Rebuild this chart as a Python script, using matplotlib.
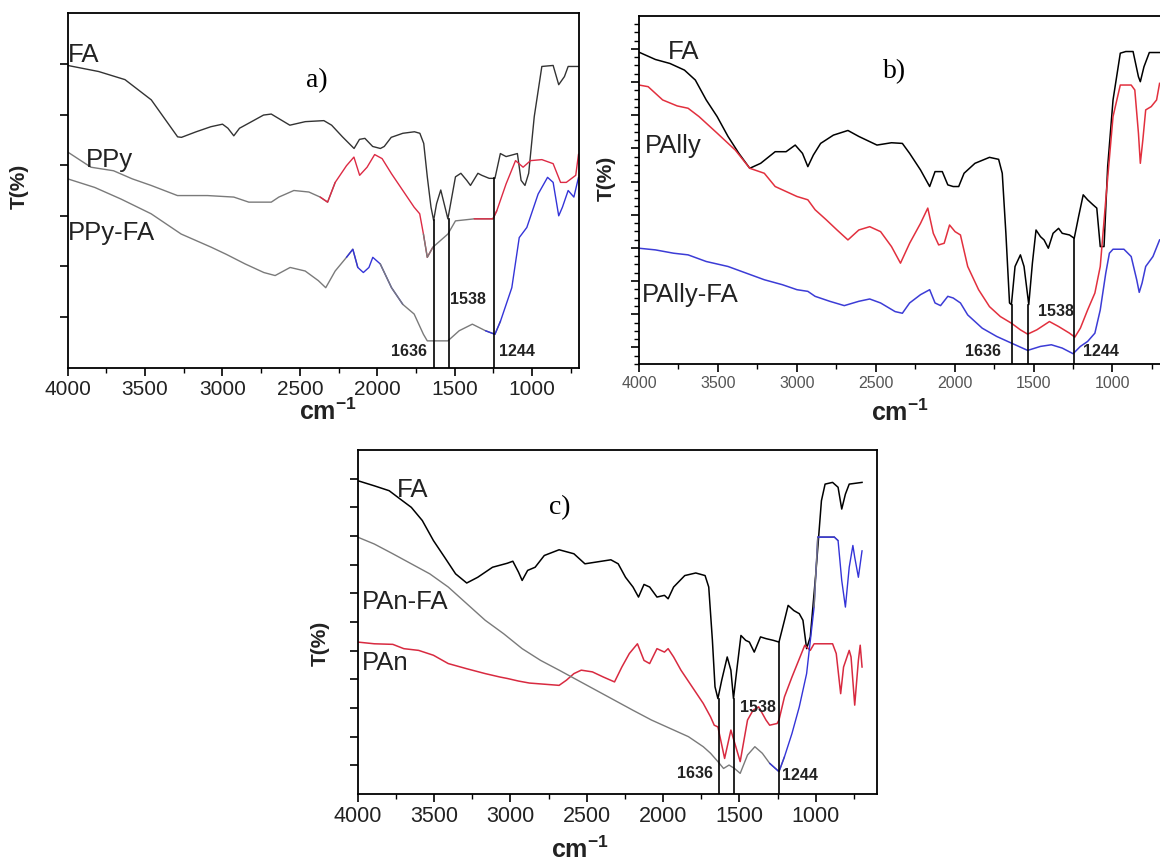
import matplotlib
matplotlib.use("Agg")
import matplotlib.pyplot as plt
import numpy as np
from matplotlib.ticker import FixedLocator, NullFormatter

plt.rcParams['font.family'] = ['Liberation Sans', 'DejaVu Sans']
plt.rcParams['mathtext.fontset'] = 'custom'
plt.rcParams['mathtext.rm'] = 'Liberation Sans'
plt.rcParams['mathtext.bf'] = 'Liberation Sans:bold'

# ---------------- data: panel a ----------------
a_fa_wn = [4000, 3800, 3630, 3460, 3290, 3265, 3170, 3075, 3000, 2965, 2927, 2890, 2830, 2735, 2685, 2565, 2465,
           2345, 2295, 2225, 2150, 2115, 2080, 2030, 1980, 1955, 1910, 1835, 1760, 1725, 1700, 1677, 1653, 1636,
           1617, 1590, 1544, 1495, 1460, 1422, 1398, 1350, 1325, 1277, 1240, 1205, 1168, 1131, 1095, 1071, 1046,
           1022, 986, 937, 864, 828, 791, 767, 700]
a_fa_t = [5.97, 5.85, 5.69, 5.29, 4.56, 4.55, 4.66, 4.76, 4.81, 4.73, 4.58, 4.73, 4.83, 4.99, 5.01, 4.79, 4.86,
          4.88, 4.79, 4.56, 4.33, 4.51, 4.53, 4.37, 4.33, 4.37, 4.55, 4.63, 4.66, 4.63, 4.43, 3.77, 3.17, 2.91,
          3.24, 3.51, 2.94, 3.77, 3.84, 3.70, 3.60, 3.84, 3.80, 3.74, 3.74, 4.23, 4.17, 4.20, 4.23, 3.70, 3.60,
          3.84, 4.96, 5.95, 5.97, 5.59, 5.75, 5.95, 5.95]

a_ppy_wn = [4000, 3850, 3704, 3583, 3461, 3291, 3097, 2927, 2830, 2685, 2636, 2539, 2442, 2369, 2321, 2272, 2199,
            2151, 2114, 2066, 2017, 1969, 1908, 1835, 1762, 1726, 1702, 1677, 1641, 1544, 1495, 1374, 1253, 1228,
            1168, 1107, 1058, 1010, 937, 864, 816, 779, 718, 700]
a_ppy_t = [4.26, 3.96, 3.89, 3.73, 3.60, 3.40, 3.40, 3.37, 3.27, 3.27, 3.37, 3.50, 3.47, 3.37, 3.27, 3.66, 3.99,
           4.16, 3.80, 3.96, 4.21, 4.13, 3.83, 3.50, 3.17, 3.04, 2.64, 2.18, 2.38, 2.64, 2.90, 2.94, 2.94, 3.10,
           3.63, 4.09, 3.96, 4.09, 4.11, 4.03, 3.66, 3.66, 3.80, 4.22]

a_ppyfa_wn = [4000, 3825, 3655, 3461, 3267, 3073, 2976, 2854, 2733, 2660, 2563, 2466, 2381, 2333, 2272, 2199, 2158,
              2126, 2090, 2054, 2029, 1981, 1908, 1835, 1762, 1702, 1677, 1641, 1544, 1471, 1386, 1301, 1240, 1204,
              1131, 1083, 1034, 961, 900, 864, 828, 804, 767, 730, 700]
a_ppyfa_t = [3.73, 3.56, 3.33, 3.04, 2.64, 2.38, 2.24, 2.05, 1.88, 1.82, 1.98, 1.91, 1.72, 1.58, 1.91, 2.18, 2.34,
             1.98, 1.88, 1.98, 2.18, 2.05, 1.58, 1.25, 1.06, 0.66, 0.53, 0.53, 0.53, 0.73, 0.86, 0.73, 0.66, 0.92,
             1.58, 2.57, 2.77, 3.43, 3.76, 3.66, 3.00, 3.17, 3.50, 3.37, 3.76]

# ---------------- data: panel b ----------------
b_fa_wn = [4000, 3896, 3804, 3712, 3643, 3574, 3505, 3436, 3367, 3298, 3229, 3137, 3068, 3010, 2964, 2930, 2895,
           2849, 2768, 2676, 2607, 2492, 2400, 2331, 2285, 2216, 2158, 2124, 2078, 2043, 2009, 1974, 1940, 1871,
           1779, 1721, 1698, 1675, 1652, 1640, 1617, 1583, 1560, 1530, 1507, 1484, 1456, 1433, 1406, 1376, 1341,
           1318, 1272, 1242, 1214, 1185, 1157, 1123, 1099, 1077, 1053, 1030, 996, 950, 915, 869, 835, 823, 800,
           766, 701]
b_fa_t = [8.90, 8.68, 8.56, 8.36, 8.06, 7.46, 6.96, 6.36, 5.85, 5.40, 5.55, 5.90, 5.90, 6.10, 5.85, 5.45, 5.80,
          6.15, 6.40, 6.54, 6.36, 6.10, 6.17, 6.15, 5.85, 5.35, 4.85, 5.30, 5.30, 4.90, 4.85, 4.85, 5.25, 5.55,
          5.73, 5.67, 5.25, 3.44, 1.34, 1.29, 2.44, 2.79, 2.44, 1.29, 2.54, 3.54, 3.34, 3.24, 2.99, 3.44, 3.59,
          3.44, 3.39, 3.29, 3.95, 4.60, 4.45, 4.30, 4.20, 3.04, 3.04, 5.45, 7.46, 8.87, 8.92, 8.92, 8.16, 8.01,
          8.46, 8.89, 8.89]

b_pally_wn = [4000, 3942, 3850, 3758, 3689, 3620, 3505, 3390, 3298, 3206, 3137, 3068, 2999, 2930, 2884, 2814, 2745,
              2676, 2607, 2538, 2469, 2400, 2343, 2285, 2216, 2170, 2135, 2101, 2066, 2032, 1997, 1963, 1917, 1848,
              1779, 1710, 1640, 1583, 1537, 1479, 1399, 1341, 1272, 1238, 1203, 1157, 1111, 1077, 1042, 996, 950,
              881, 858, 835, 823, 807, 789, 754, 720, 701]
b_pally_t = [7.91, 7.86, 7.46, 7.28, 7.21, 6.96, 6.46, 5.95, 5.40, 5.25, 4.85, 4.70, 4.55, 4.45, 4.15, 3.85, 3.54,
             3.24, 3.54, 3.64, 3.49, 3.04, 2.54, 3.14, 3.74, 4.20, 3.44, 3.09, 3.14, 3.69, 3.49, 3.39, 2.44, 1.74,
             1.23, 0.93, 0.73, 0.53, 0.40, 0.53, 0.78, 0.63, 0.43, 0.31, 0.58, 1.13, 1.64, 2.44, 4.45, 6.96, 7.91,
             7.91, 7.76, 6.46, 5.55, 6.26, 7.16, 7.26, 7.46, 7.96]

b_pallyfa_wn = [4000, 3896, 3781, 3689, 3574, 3436, 3321, 3206, 3091, 2999, 2930, 2884, 2791, 2699, 2607, 2538,
                2469, 2377, 2331, 2285, 2216, 2158, 2124, 2089, 2043, 2009, 1963, 1917, 1825, 1733, 1640, 1537,
                1456, 1387, 1318, 1249, 1203, 1157, 1111, 1077, 1042, 1019, 996, 927, 881, 846, 830, 812, 789,
                743, 701]
b_pallyfa_t = [2.99, 2.94, 2.84, 2.79, 2.59, 2.44, 2.24, 2.04, 1.89, 1.74, 1.69, 1.54, 1.39, 1.26, 1.39, 1.46,
               1.34, 1.08, 1.03, 1.34, 1.59, 1.74, 1.34, 1.26, 1.54, 1.49, 1.34, 0.98, 0.58, 0.33, 0.13, -0.09,
               0.03, 0.08, -0.02, -0.19, 0.03, 0.18, 0.43, 1.13, 2.24, 2.84, 2.96, 2.96, 2.74, 2.04, 1.66, 1.94,
               2.44, 2.74, 3.24]

# ---------------- data: panel c ----------------
c_fa_wn = [4000, 3891, 3794, 3722, 3649, 3577, 3504, 3431, 3359, 3286, 3214, 3117, 3020, 2984, 2947, 2923, 2887,
           2838, 2778, 2681, 2584, 2512, 2439, 2342, 2294, 2246, 2197, 2161, 2125, 2088, 2040, 1991, 1967, 1931,
           1858, 1786, 1725, 1701, 1677, 1660, 1641, 1616, 1580, 1556, 1539, 1515, 1490, 1459, 1435, 1403, 1362,
           1326, 1278, 1241, 1205, 1181, 1144, 1108, 1084, 1060, 1036, 1000, 963, 939, 890, 854, 830, 806, 781,
           697]
c_fa_t = [10.93, 10.75, 10.58, 10.29, 10.00, 9.54, 8.84, 8.26, 7.68, 7.36, 7.56, 7.91, 8.05, 8.12, 7.74, 7.45,
          7.80, 7.91, 8.32, 8.52, 8.38, 8.03, 8.09, 8.17, 8.03, 7.56, 7.22, 6.87, 7.31, 7.22, 6.87, 6.93, 6.81,
          7.22, 7.62, 7.71, 7.62, 7.22, 5.36, 3.74, 3.33, 3.97, 4.78, 4.32, 3.33, 4.43, 5.53, 5.36, 5.30, 4.95,
          5.48, 5.42, 5.36, 5.30, 6.06, 6.58, 6.40, 6.29, 6.06, 5.07, 5.48, 7.68, 10.23, 10.81, 10.87, 10.70,
          9.94, 10.46, 10.81, 10.87]

c_panfa_wn = [4000, 3891, 3770, 3649, 3528, 3407, 3286, 3165, 3044, 2923, 2802, 2681, 2560, 2439, 2318, 2197, 2076,
              1955, 1834, 1737, 1689, 1641, 1604, 1568, 1532, 1495, 1447, 1399, 1350, 1302, 1241, 1205, 1156, 1108,
              1060, 1011, 987, 878, 854, 830, 806, 781, 757, 745, 721, 697]
c_panfa_t = [8.96, 8.72, 8.38, 8.03, 7.68, 7.22, 6.64, 6.06, 5.59, 5.07, 4.66, 4.32, 3.97, 3.62, 3.27, 2.92, 2.58,
             2.29, 2.00, 1.65, 1.42, 1.13, 0.89, 1.01, 0.89, 0.72, 1.36, 1.65, 1.42, 1.07, 0.78, 1.30, 2.11, 3.04,
             4.20, 6.52, 8.96, 8.96, 8.84, 7.45, 6.52, 7.91, 8.67, 8.26, 7.56, 8.49]

c_pan_wn = [4000, 3891, 3770, 3698, 3601, 3504, 3407, 3286, 3165, 3068, 3020, 2947, 2875, 2778, 2681, 2633, 2584,
            2536, 2463, 2391, 2318, 2270, 2221, 2168, 2125, 2088, 2040, 1991, 1967, 1931, 1883, 1810, 1737, 1689,
            1665, 1641, 1597, 1556, 1495, 1447, 1411, 1374, 1326, 1302, 1253, 1241, 1205, 1156, 1072, 1036, 1011,
            890, 866, 837, 818, 781, 769, 745, 721, 709, 697]
c_pan_t = [5.30, 5.24, 5.22, 5.07, 5.01, 4.84, 4.55, 4.37, 4.20, 4.08, 4.03, 3.94, 3.87, 3.83, 3.79, 3.97, 4.20,
           4.32, 4.26, 4.08, 3.91, 4.43, 4.90, 5.24, 4.66, 4.55, 5.07, 4.95, 5.07, 4.78, 4.32, 3.74, 3.16, 2.69,
           2.40, 2.34, 1.24, 2.23, 1.13, 2.58, 2.92, 3.04, 2.58, 2.40, 2.46, 2.58, 3.39, 4.08, 5.19, 5.01, 5.24,
           5.24, 4.90, 3.50, 4.43, 5.01, 4.78, 3.10, 4.66, 5.19, 4.43]

# marked bands and the height each marker line reaches in each panel
peak_wn = [1636, 1538, 1244]
peak_labels = ['1636', '1538', '1244']
a_peak_top = [2.91, 2.94, 3.74]
b_peak_top = [1.29, 1.29, 3.29]
c_peak_top = [3.33, 3.33, 5.30]

# ---------------- styling ----------------
GRAY = '#7a7a7a'
RED = '#dd2a44'
BLUE = '#3434d8'

W, H = 1160, 865
fig = plt.figure(figsize=(W / 100, H / 100), dpi=100)
fig.patch.set_facecolor('white')


def px_axes(l, t, r, b):
    return fig.add_axes([l / W, 1 - b / H, (r - l) / W, (b - t) / H])


def ftext(x, y, s, **kw):
    fig.text(x / W, 1 - y / H, s, **kw)


def seg_plot(ax, wn, t, segs, lw=1.0):
    wn = np.asarray(wn, float)
    t = np.asarray(t, float)
    for hi, lo, col in segs:
        idx = np.where((wn <= hi) & (wn >= lo))[0]
        if len(idx) == 0:
            continue
        i0 = max(idx[0] - 1, 0)
        i1 = min(idx[-1] + 1, len(wn) - 1)
        ax.plot(wn[i0:i1 + 1], t[i0:i1 + 1], color=col, lw=lw, solid_capstyle='round')


def style_axes(ax, xlim, ylim, yticks, yminor=None, tick_color='#222222', tick_size=15, right=True):
    ax.set_xlim(*xlim)
    ax.set_ylim(*ylim)
    ax.xaxis.set_major_locator(FixedLocator([4000, 3500, 3000, 2500, 2000, 1500, 1000]))
    ax.xaxis.set_minor_locator(FixedLocator([3750, 3250, 2750, 2250, 1750, 1250, 750]))
    ax.yaxis.set_major_locator(FixedLocator(yticks))
    if yminor is not None:
        ax.yaxis.set_minor_locator(FixedLocator(yminor))
    ax.yaxis.set_major_formatter(NullFormatter())
    ax.tick_params(axis='both', which='major', direction='out', length=6, width=1.2, colors='black',
                   labelcolor=tick_color)
    ax.tick_params(axis='both', which='minor', direction='out', length=3.5, width=1.0)
    ax.tick_params(axis='x', labelsize=tick_size, pad=3)
    for sp in ax.spines.values():
        sp.set_linewidth(1.3)
        sp.set_color('black')
    if not right:
        ax.spines['right'].set_visible(False)


# ================= panel a =================
axa = px_axes(67.7, 13.3, 579.3, 367.7)
style_axes(axa, (4000, 695), (0, 7.0), [1, 2, 3, 4, 5, 6], tick_size=15)
axa.plot(a_fa_wn, a_fa_t, color='#333333', lw=1.0)
seg_plot(axa, a_ppy_wn, a_ppy_t, [(4000, 2321, GRAY), (2321, 1677, RED), (1677, 1253, GRAY), (1253, 690, RED)])
seg_plot(axa, a_ppyfa_wn, a_ppyfa_t, [(4000, 2158, GRAY), (2158, 1908, BLUE), (1908, 1240, GRAY),
                                       (1240, 690, BLUE)])
for w, top in zip(peak_wn, a_peak_top):
    axa.plot([w, w], [0, top], color='black', lw=1.2)

# ================= panel b =================
axb = px_axes(639, 15.7, 1166, 364)
b_minor = [v for v in np.arange(-0.5, 10.01, 0.25) if abs(v - round(v)) > 1e-6]
style_axes(axb, (4000, 4000 - (1166 - 639) / 78.9 * 500), (-0.5, 10.0), list(range(0, 10)), yminor=b_minor,
           tick_color='#555555', tick_size=11.5, right=False)
axb.plot(b_fa_wn, b_fa_t, color='black', lw=1.1)
axb.plot(b_pally_wn, b_pally_t, color='#e2303e', lw=1.1)
axb.plot(b_pallyfa_wn, b_pallyfa_t, color='#3c3cd6', lw=1.1)
for w, top in zip(peak_wn, b_peak_top):
    axb.plot([w, w], [-0.5, top], color='black', lw=1.2)

# ================= panel c =================
axc = px_axes(357.7, 450, 876.7, 794)
style_axes(axc, (4000, 601), (0, 12.0), list(range(1, 12)), tick_size=15.5)
axc.plot(c_fa_wn, c_fa_t, color='black', lw=1.1)
axc.plot(c_pan_wn, c_pan_t, color='#d82a40', lw=1.1)
seg_plot(axc, c_panfa_wn, c_panfa_t, [(4000, 1241, GRAY), (1241, 987, BLUE), (987, 878, GRAY),
                                       (878, 690, BLUE)])
for w, top in zip(peak_wn, c_peak_top):
    axc.plot([w, w], [0, top], color='black', lw=1.2)

# ================= texts =================
lab = dict(fontsize=18.5, color='#222222', va='center', ha='left')
ftext(68, 55, 'FA', **lab)
ftext(86, 160, 'PPy', **lab)
ftext(68, 233, 'PPy-FA', **lab)
ftext(668, 52, 'FA', **lab)
ftext(645, 146, 'PAlly', **lab)
ftext(642, 295, 'PAlly-FA', **lab)
ftext(397, 490, 'FA', **lab)
ftext(362, 602, 'PAn-FA', **lab)
ftext(362, 663, 'PAn', **lab)

serif = dict(fontsize=20, family='Liberation Serif', va='center', ha='center', color='black')
ftext(317, 81, 'a)', **serif)
ftext(895, 72, 'b)', **serif)
ftext(560, 508, 'c)', **serif)

yl = dict(fontsize=15, fontweight='bold', rotation=90, va='center', ha='center', color='#222222')
ftext(19, 186, 'T(%)', **yl)
ftext(606, 178, 'T(%)', **yl)
ftext(320, 643, 'T(%)', **yl)

xl = dict(fontsize=18, va='center', ha='center', color='#222222')
ftext(328, 412, r'$\mathbf{cm^{-1}}$', **xl)
ftext(900, 413, r'$\mathbf{cm^{-1}}$', **xl)
ftext(580, 850, r'$\mathbf{cm^{-1}}$', **xl)

pk = dict(fontsize=11.5, fontweight='bold', va='center', ha='center', color='#222222')
for (x, y), s in zip([(409, 352), (468, 300), (517, 352)], peak_labels):
    ftext(x, y, s, **pk)
for (x, y), s in zip([(983, 352), (1056, 311), (1101, 352)], peak_labels):
    ftext(x, y, s, **pk)
for (x, y), s in zip([(695, 773), (758, 707), (800, 775)], peak_labels):
    ftext(x, y, s, **pk)

fig.savefig('out.png', dpi=100, facecolor='white')
